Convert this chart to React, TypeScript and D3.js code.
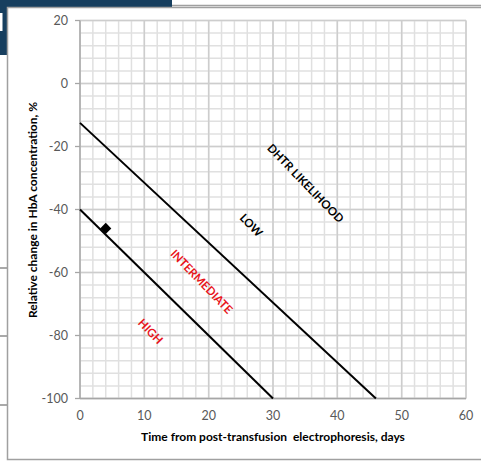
import React from "react";
import * as d3 from "d3";

// axis ticks
const xTicks = [0, 10, 20, 30, 40, 50, 60];
const yTicks = [20, 0, -20, -40, -60, -80, -100];

// boundary lines between likelihood zones
const highBoundary = [
  { day: 0, pct: -40 },
  { day: 30, pct: -100 },
];
const lowBoundary = [
  { day: 0, pct: -12.5 },
  { day: 46, pct: -100 },
];

// the patient point
const patient = [{ day: 4, pct: -46 }];

const zoneNames = ["DHTR LIKELIHOOD", "LOW", "INTERMEDIATE", "HIGH"];
const zoneColors = ["#000000", "#000000", "#e8141b", "#e8141b"];

const W = 481;
const H = 462;
const FONT = "Lato, 'Open Sans', sans-serif";

const App = () => {
  const x = d3.scaleLinear().domain([0, 60]).range([80, 466]);
  const y = d3.scaleLinear().domain([-100, 20]).range([398.5, 20.5]);

  const line = d3
    .line<{ day: number; pct: number }>()
    .x((d) => x(d.day))
    .y((d) => y(d.pct));

  const minorX = d3.range(0, 61, 2);
  const minorY = d3.range(-100, 21, 4);

  // where the rotated zone names sit, in data units
  const zoneSpots = [
    [35.05, -31.7],
    [26.6, -45.0],
    [18.9, -62.9],
    [10.95, -78.7],
  ];

  const marker = d3.symbol().type(d3.symbolSquare).size(62)();

  return (
    <svg
      width={W}
      height={H}
      style={{ position: "absolute", left: 0, top: 0, background: "#fff" }}
      fontFamily={FONT}
    >
      {/* background bits around the panel */}
      <rect x={0} y={0} width={172} height={7} fill="#173f5f" />
      <rect x={0} y={0} width={8} height={55} fill="#173f5f" />
      <rect x={0} y={13} width={2.5} height={18} fill="#ffffff" />
      {[268, 336, 405].map((v) => (
        <line key={v} x1={0} x2={8} y1={v} y2={v} stroke="#8c8c8c" strokeWidth={1.5} />
      ))}
      <line x1={172} x2={W} y1={5.5} y2={5.5} stroke="#a0a0a0" strokeWidth={1.5} />
      <rect x={7.5} y={7.5} width={W} height={452} fill="#fff" stroke="#a0a0a0" strokeWidth={1.5} />

      {/* grid */}
      <g strokeWidth={1.5}>
        {minorX.map((d) => (
          <line key={"mx" + d} x1={x(d)} x2={x(d)} y1={y(20)} y2={y(-100)} stroke="#e0e0e0" />
        ))}
        {minorY.map((d) => (
          <line key={"my" + d} x1={x(0)} x2={x(60)} y1={y(d)} y2={y(d)} stroke="#e0e0e0" />
        ))}
        {xTicks.map((d) => (
          <line key={"gx" + d} x1={x(d)} x2={x(d)} y1={y(20)} y2={y(-100)} stroke="#cdcdcd" />
        ))}
        {yTicks.map((d) => (
          <line key={"gy" + d} x1={x(0)} x2={x(60)} y1={y(d)} y2={y(d)} stroke="#cdcdcd" />
        ))}
      </g>

      {/* axes */}
      <line x1={x(0)} x2={x(0)} y1={y(20)} y2={y(-100)} stroke="#a6a6a6" strokeWidth={1.3} />
      <line x1={x(0)} x2={x(60)} y1={y(-100)} y2={y(-100)} stroke="#a6a6a6" strokeWidth={1.3} />
      {yTicks.map((d) => (
        <g key={"ty" + d}>
          <line x1={x(0) - 5} x2={x(0)} y1={y(d)} y2={y(d)} stroke="#a6a6a6" strokeWidth={1.3} />
          <text x={68} y={y(d) + 4.5} textAnchor="end" fontSize={12.5} fill="#595959">
            {d}
          </text>
        </g>
      ))}
      {xTicks.map((d) => (
        <text key={"tx" + d} x={x(d)} y={420} textAnchor="middle" fontSize={12.5} fill="#595959">
          {d}
        </text>
      ))}

      {/* axis titles */}
      <text x={273} y={441} textAnchor="middle" fontSize={12} fontWeight="bold" fill="#000">
        Time from post-transfusion{"\u00a0\u00a0"}electrophoresis, days
      </text>
      <text
        transform="translate(37,210) rotate(-90)"
        textAnchor="middle"
        fontSize={12}
        fontWeight="bold"
        fill="#000"
      >
        Relative change in HbA concentration, %
      </text>

      {/* zone boundaries */}
      <path d={line(highBoundary) ?? ""} fill="none" stroke="#000" strokeWidth={2} />
      <path d={line(lowBoundary) ?? ""} fill="none" stroke="#000" strokeWidth={2} />

      {/* zone names */}
      {zoneNames.map((name, i) => (
        <text
          key={name}
          transform={`translate(${x(zoneSpots[i][0])},${y(zoneSpots[i][1])}) rotate(46)`}
          textAnchor="middle"
          dy="0.35em"
          fontSize={11.5}
          fontWeight="bold"
          fill={zoneColors[i]}
        >
          {name}
        </text>
      ))}

      {/* patient */}
      {patient.map((p, i) => (
        <path
          key={i}
          d={marker ?? ""}
          transform={`translate(${x(p.day)},${y(p.pct)}) rotate(45)`}
          fill="#000"
        />
      ))}
    </svg>
  );
};

export default App;
